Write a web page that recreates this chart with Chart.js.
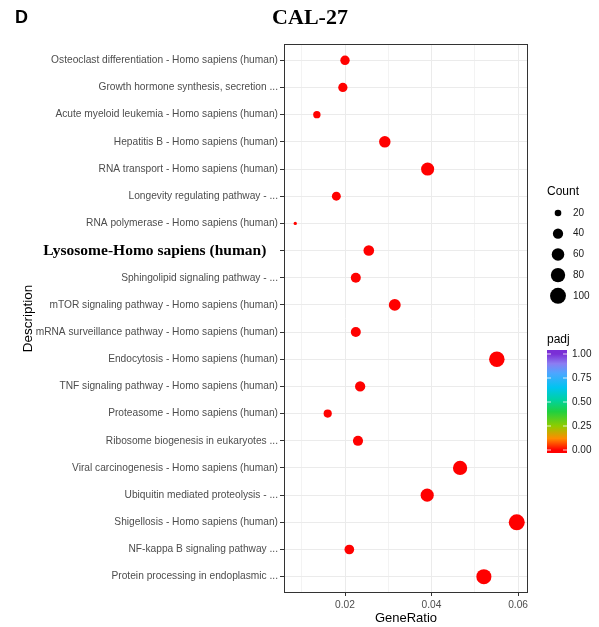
<!DOCTYPE html>
<html>
<head>
<meta charset="utf-8">
<script src="https://cdn.jsdelivr.net/npm/chart.js@4.4.1/dist/chart.umd.min.js"></script>
<style>
  html, body { margin: 0; padding: 0; background: #fff; }
</style>
</head>
<body>
<canvas id="dotplot" width="599" height="627"></canvas>
<script>
// KEGG pathways, top to bottom
const categories = [
  'Osteoclast differentiation - Homo sapiens (human)',
  'Growth hormone synthesis, secretion ...',
  'Acute myeloid leukemia - Homo sapiens (human)',
  'Hepatitis B - Homo sapiens (human)',
  'RNA transport - Homo sapiens (human)',
  'Longevity regulating pathway - ...',
  'RNA polymerase - Homo sapiens (human)',
  'Lysosome-Homo sapiens (human)',
  'Sphingolipid signaling pathway - ...',
  'mTOR signaling pathway - Homo sapiens (human)',
  'mRNA surveillance pathway - Homo sapiens (human)',
  'Endocytosis - Homo sapiens (human)',
  'TNF signaling pathway - Homo sapiens (human)',
  'Proteasome - Homo sapiens (human)',
  'Ribosome biogenesis in eukaryotes ...',
  'Viral carcinogenesis - Homo sapiens (human)',
  'Ubiquitin mediated proteolysis - ...',
  'Shigellosis - Homo sapiens (human)',
  'NF-kappa B signaling pathway ...',
  'Protein processing in endoplasmic ...'
];
const geneRatio = [0.0200, 0.0195, 0.0135, 0.0292, 0.0391, 0.0180, 0.0085, 0.0255, 0.0225, 0.0315,
                   0.0225, 0.0551, 0.0235, 0.0160, 0.0230, 0.0466, 0.0390, 0.0597, 0.0210, 0.0521];
const counts = [34, 33, 23, 50, 66, 31, 14, 43, 38, 54, 38, 94, 40, 27, 39, 79, 66, 101, 36, 89];
const padj = [0.001, 0.001, 0.002, 0.000, 0.000, 0.001, 0.003, 0.000, 0.001, 0.000,
              0.001, 0.000, 0.001, 0.002, 0.001, 0.000, 0.000, 0.000, 0.001, 0.000];
const xTicks = [0.01, 0.02, 0.03, 0.04, 0.05, 0.06];
const sizeBreaks = [20, 40, 60, 80, 100];
const padjBreaks = [0, 0.25, 0.5, 0.75, 1];
const highlightIndex = 7; // Lysosome, set in bold serif

// colour ramp used for padj
const ramp = [
  [0.00, [255, 0, 0]], [0.12, [255, 140, 0]], [0.25, [143, 204, 0]], [0.40, [31, 208, 64]],
  [0.52, [0, 210, 160]], [0.65, [0, 196, 240]], [0.80, [77, 166, 255]], [0.90, [140, 125, 242]],
  [1.00, [122, 47, 214]]
];
function padjColor(v) {
  for (let i = 1; i < ramp.length; i++) {
    if (v <= ramp[i][0]) {
      const [p0, c0] = ramp[i - 1], [p1, c1] = ramp[i];
      const t = (v - p0) / (p1 - p0);
      const c = c0.map((a, k) => Math.round(a + (c1[k] - a) * t));
      return `rgb(${c[0]},${c[1]},${c[2]})`;
    }
  }
  return 'rgb(122,47,214)';
}

// size scale: area style, like ggplot scale_size
const cMin = Math.min(...counts), cMax = Math.max(...counts);
function dotRadius(c) {
  const t = Math.max(0, (c - cMin) / (cMax - cMin));
  return (3.3 + 12.7 * Math.sqrt(t)) / 2;
}

const sans = 'Liberation Sans, Arial, Helvetica, sans-serif';
const serif = 'Liberation Serif, Times New Roman, serif';

const decorPlugin = {
  id: 'decor',
  afterDraw(chart) {
    const { ctx, chartArea: a } = chart;
    ctx.save();
    // panel border
    ctx.strokeStyle = '#333';
    ctx.lineWidth = 1;
    ctx.strokeRect(a.left + 0.5, a.top + 0.5, a.right - a.left - 1, a.bottom - a.top - 1);

    // panel letter and title
    ctx.fillStyle = '#000';
    ctx.textBaseline = 'alphabetic';
    ctx.font = 'bold 18px ' + sans;
    ctx.textAlign = 'left';
    ctx.fillText('D', 15, 23);
    ctx.font = 'bold 22px ' + serif;
    ctx.textAlign = 'center';
    ctx.fillText('CAL-27', 310, 24);

    // Count legend
    ctx.textBaseline = 'middle';
    ctx.textAlign = 'left';
    ctx.font = '12px ' + sans;
    ctx.fillText('Count', 547, 192);
    ctx.font = '10px ' + sans;
    sizeBreaks.forEach((b, i) => {
      const y = 213 + i * 20.7;
      ctx.fillStyle = '#000';
      ctx.beginPath();
      ctx.arc(558, y, dotRadius(b), 0, Math.PI * 2);
      ctx.fill();
      ctx.fillStyle = '#1a1a1a';
      ctx.fillText(String(b), 573, y);
    });

    // padj colour bar
    ctx.fillStyle = '#000';
    ctx.font = '12px ' + sans;
    ctx.fillText('padj', 547, 340);
    const barTop = 350, barBot = 453, y0 = 450, y1 = 354;
    const g = ctx.createLinearGradient(0, y0, 0, y1);
    ramp.forEach(([p]) => g.addColorStop(p, padjColor(p)));
    ctx.fillStyle = padjColor(1);
    ctx.fillRect(547, barTop, 20, y1 - barTop);
    ctx.fillStyle = padjColor(0);
    ctx.fillRect(547, y0, 20, barBot - y0);
    ctx.fillStyle = g;
    ctx.fillRect(547, y1, 20, y0 - y1);
    ctx.font = '10px ' + sans;
    padjBreaks.forEach(b => {
      const y = y0 + (y1 - y0) * b;
      ctx.strokeStyle = 'rgba(255,255,255,0.8)';
      ctx.beginPath();
      ctx.moveTo(547, y); ctx.lineTo(551, y);
      ctx.moveTo(563, y); ctx.lineTo(567, y);
      ctx.stroke();
      ctx.fillStyle = '#1a1a1a';
      ctx.fillText(b.toFixed(2), 572, y);
    });
    ctx.restore();
  }
};

const isMajor = v => Math.round(v * 100) % 2 === 0;

new Chart(document.getElementById('dotplot'), {
  type: 'scatter',
  data: {
    datasets: [{
      data: geneRatio.map((g, i) => ({ x: g, y: i })),
      pointRadius: ctx => dotRadius(counts[ctx.dataIndex]),
      pointHoverRadius: ctx => dotRadius(counts[ctx.dataIndex]),
      backgroundColor: ctx => padjColor(padj[ctx.dataIndex]),
      borderWidth: 0
    }]
  },
  options: {
    responsive: false,
    animation: false,
    layout: { padding: { left: 16, top: 44, right: 71, bottom: 0 } },
    plugins: { legend: { display: false }, tooltip: { enabled: false } },
    scales: {
      x: {
        type: 'linear',
        min: 0.0059,
        max: 0.0623,
        afterBuildTicks: scale => { scale.ticks = xTicks.map(v => ({ value: v })); },
        afterFit: scale => { scale.height = 34; },
        border: { display: false },
        grid: {
          color: '#ebebeb',
          lineWidth: ctx => (ctx.tick && isMajor(ctx.tick.value)) ? 1 : 0.6,
          tickColor: ctx => (ctx.tick && isMajor(ctx.tick.value)) ? '#333' : 'rgba(0,0,0,0)',
          tickLength: 3
        },
        ticks: {
          autoSkip: false,
          maxRotation: 0,
          padding: 3,
          color: '#4d4d4d',
          font: { family: sans, size: 10.2 },
          callback: v => isMajor(v) ? v.toFixed(2) : ''
        },
        title: {
          display: true,
          text: 'GeneRatio',
          color: '#000',
          font: { family: sans, size: 13 },
          padding: { top: 2, bottom: 1 }
        }
      },
      y: {
        type: 'linear',
        reverse: true,
        min: -0.6,
        max: categories.length - 0.4,
        afterBuildTicks: scale => { scale.ticks = categories.map((_, i) => ({ value: i })); },
        afterFit: scale => { scale.width = 268; },
        border: { display: false },
        grid: { color: '#ebebeb', lineWidth: 1, tickColor: '#333', tickLength: 4 },
        ticks: {
          autoSkip: false,
          padding: 2,
          color: ctx => ctx.index === highlightIndex ? '#000' : '#4d4d4d',
          font: ctx => ctx.index === highlightIndex
            ? { family: serif, size: 15.5, weight: 'bold' }
            : { family: sans, size: 10.2 },
          callback: v => categories[v] + (v === highlightIndex ? '   ' : '')
        },
        title: {
          display: true,
          text: 'Description',
          color: '#000',
          font: { family: sans, size: 13.5 },
          padding: { top: 4, bottom: 4 }
        }
      }
    }
  },
  plugins: [decorPlugin]
});
</script>
</body>
</html>
